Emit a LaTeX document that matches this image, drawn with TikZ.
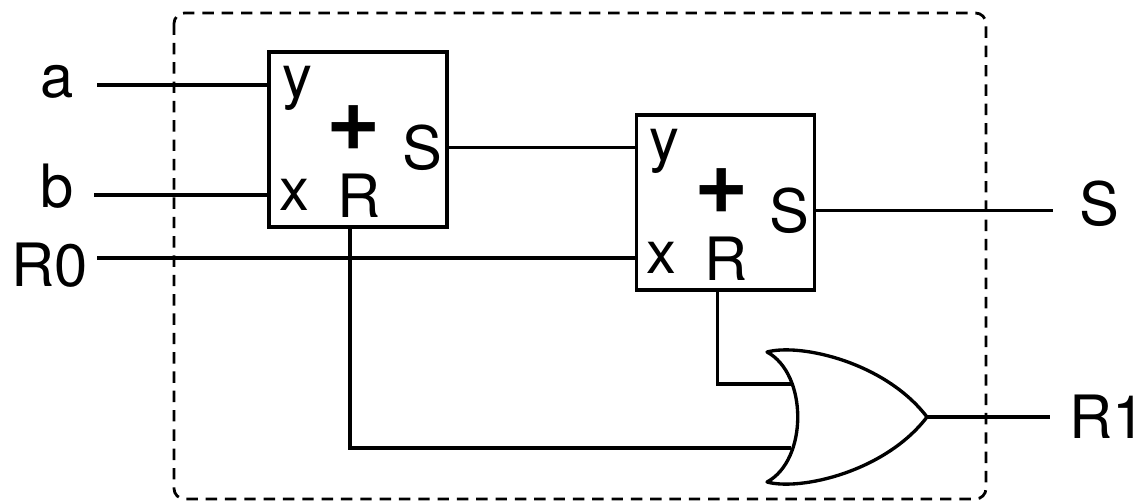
\documentclass[tikz,border=0pt]{standalone}
\usepackage{fontspec}
\setmainfont{TeX Gyre Heros}
\usetikzlibrary{positioning}

\begin{document}
\begin{tikzpicture}[x=0.02cm, y=-0.02cm,
    adder/.style={draw, line width=2pt, minimum width=3.56cm, minimum height=3.5cm, inner sep=0pt},
    port/.style={inner sep=0pt, anchor=base west, font=\fontsize{34}{40}\selectfont},
    plus/.style={inner sep=0pt, font=\fontsize{53}{60}\selectfont\bfseries},
    wire/.style={line width=1.8pt},
    gate/.style={draw, line width=1.9pt, line join=round},
    frame/.style={line width=1.6pt, dash pattern=on 6.5pt off 4.5pt, rounded corners=6pt}]
    \useasboundingbox (0,0) rectangle (1147,504);

    % outer frame of the block
    \draw[frame] (174,13) rectangle (986,499);

    % the two adders
    \foreach \n/\cx/\cy in {add1/358/139.5, add2/725.5/202.5}{
        \node[adder] (\n) at (\cx,\cy) {};
        \node[port] (\n-y) at (\cx-76,\cy-42.5) {y};
        \node[plus] (\n-op) at (\cx-4,\cy-11.5) {+};
        \node[port] (\n-s) at (\cx+44,\cy+30) {S};
        \node[port] (\n-x) at (\cx-79,\cy+70.5) {x};
        \node[port] (\n-r) at (\cx-21,\cy+77.5) {R};
        \coordinate (\n-sout) at ([shift={(0,8)}]\n.east);
        \coordinate (\n-rout) at ([shift={(-8,0)}]\n.south);
    }

    % or gate
    \coordinate (or-in1) at (792,384);
    \coordinate (or-in2) at (791,448);
    \coordinate (or-out) at (927,417);
    \draw[gate] (767,352) .. controls (800,343) and (885,362) .. (or-out)
        .. controls (885,472) and (800,491) .. (767,482)
        .. controls (808,460) and (808,374) .. cycle;

    % inputs and outputs
    \node[port] (a) at (40,97) {a};
    \node[port] (b) at (40,207) {b};
    \node[port] (r0) at (11,286) {R0};
    \node[port] (s) at (1079,225) {S};
    \node[port] (r1) at (1069,438) {R1};
    \coordinate (in-a) at (97,85);
    \coordinate (in-b) at (94,195);
    \coordinate (in-r0) at (97,258);
    \coordinate (out-s) at (1053,210.5);
    \coordinate (out-r1) at (1050,417);

    % wiring
    \draw[wire] (in-a) -- (in-a -| add1.west);
    \draw[wire] (in-b) -- (in-b -| add1.west);
    \draw[wire] (in-r0) -- (in-r0 -| add2.west);
    \draw[wire] (add1-sout) -- (add1-sout -| add2.west);
    \draw[wire] (add2-sout) -- (out-s);
    \draw[wire] (add2-rout) |- (or-in1);
    \draw[wire] (add1-rout) |- (or-in2);
    \draw[wire] (or-out) -- (out-r1);
\end{tikzpicture}
\end{document}
